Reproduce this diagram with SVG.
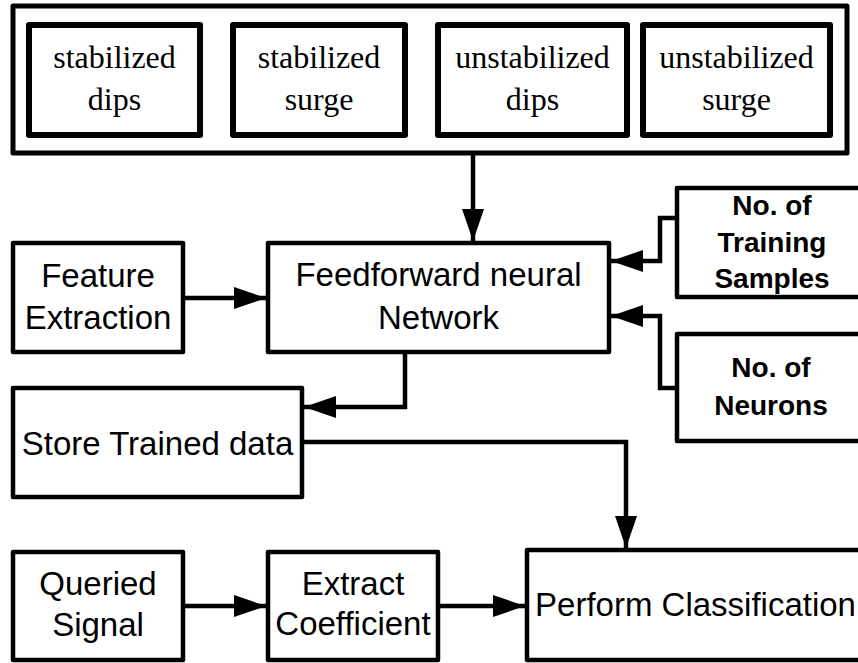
<svg xmlns="http://www.w3.org/2000/svg" width="858" height="663" viewBox="0 0 858 663">
<style>
.box{fill:#fff;stroke:#000;stroke-width:4.5;stroke-linejoin:round}
.inner{fill:#fff;stroke:#000;stroke-width:6;stroke-linejoin:round}
.outer{fill:#fff;stroke:#000;stroke-width:5;stroke-linejoin:round}
.conn{fill:none;stroke:#000;stroke-width:4.5;marker-end:url(#ah)}
.conn2{fill:none;stroke:#000;stroke-width:4.5}
.t{font-family:"Liberation Sans",Arial,sans-serif;font-size:33px;text-anchor:middle;fill:#000}
.tb{font-family:"Liberation Sans",Arial,sans-serif;font-size:28px;font-weight:bold;text-anchor:middle;fill:#000}
.ts{font-family:"Liberation Serif","Times New Roman",serif;font-size:32px;text-anchor:middle;fill:#000}
</style>
<defs>
<marker id="ah" markerUnits="userSpaceOnUse" markerWidth="32" markerHeight="22" refX="32" refY="11" orient="auto">
<path d="M0,0 L32,11 L0,22 z" fill="#000"/>
</marker>
</defs>
<rect width="858" height="663" fill="#fff"/>
<g id="inputs">
<rect class="outer" x="13" y="6" width="834" height="147"/>
<g id="sd"><rect class="inner" x="29" y="25" width="171" height="110"/><text class="ts" x="114.5" y="68">stabilized</text><text class="ts" x="114.5" y="110">dips</text></g>
<g id="ss"><rect class="inner" x="233" y="25" width="172" height="110"/><text class="ts" x="319" y="68">stabilized</text><text class="ts" x="319" y="110">surge</text></g>
<g id="ud"><rect class="inner" x="438" y="25" width="189" height="110"/><text class="ts" x="532.5" y="68">unstabilized</text><text class="ts" x="532.5" y="110">dips</text></g>
<g id="us"><rect class="inner" x="643" y="25" width="187" height="110"/><text class="ts" x="736.5" y="68">unstabilized</text><text class="ts" x="736.5" y="110">surge</text></g>
</g>
<g id="feature"><rect class="box" x="13" y="243" width="170" height="109"/><text class="t" x="98" y="287">Feature</text><text class="t" x="98" y="329">Extraction</text></g>
<g id="ffnn"><rect class="box" x="268" y="243" width="341" height="109"/><text class="t" x="438.5" y="286">Feedforward neural</text><text class="t" x="438.5" y="329">Network</text></g>
<g id="store"><rect class="box" x="13" y="388" width="289" height="109"/><text class="t" x="157.5" y="455">Store Trained data</text></g>
<g id="training"><rect class="box" x="677" y="188" width="190" height="109"/><text class="tb" x="772" y="215">No. of</text><text class="tb" x="772" y="252">Training</text><text class="tb" x="772" y="288">Samples</text></g>
<g id="neurons"><rect class="box" x="677" y="334" width="190" height="107"/><text class="tb" x="771" y="377">No. of</text><text class="tb" x="771" y="415">Neurons</text></g>
<g id="queried"><rect class="box" x="13" y="552" width="170" height="108"/><text class="t" x="98" y="595">Queried</text><text class="t" x="98" y="636">Signal</text></g>
<g id="extract"><rect class="box" x="268" y="552" width="170" height="108"/><text class="t" x="353" y="595">Extract</text><text class="t" x="353" y="635">Coefficient</text></g>
<g id="perform"><rect class="box" x="527" y="550" width="340" height="110"/><text class="t" x="695.5" y="616">Perform Classification</text></g>
<g id="connectors">
<path class="conn" d="M473,153 L473,241"/>
<path class="conn" d="M183,298 L266,298"/>
<path class="conn" d="M405,352 L405,407 L304,407"/>
<path class="conn" d="M677,218 L660,218 L660,261 L611,261"/>
<path class="conn" d="M677,388 L660,388 L660,316 L611,316"/>
<path class="conn" d="M302,442 L626,442 L626,548"/>
<path class="conn" d="M183,606 L266,606"/>
<path class="conn" d="M438,606 L525,606"/>
</g>
</svg>
